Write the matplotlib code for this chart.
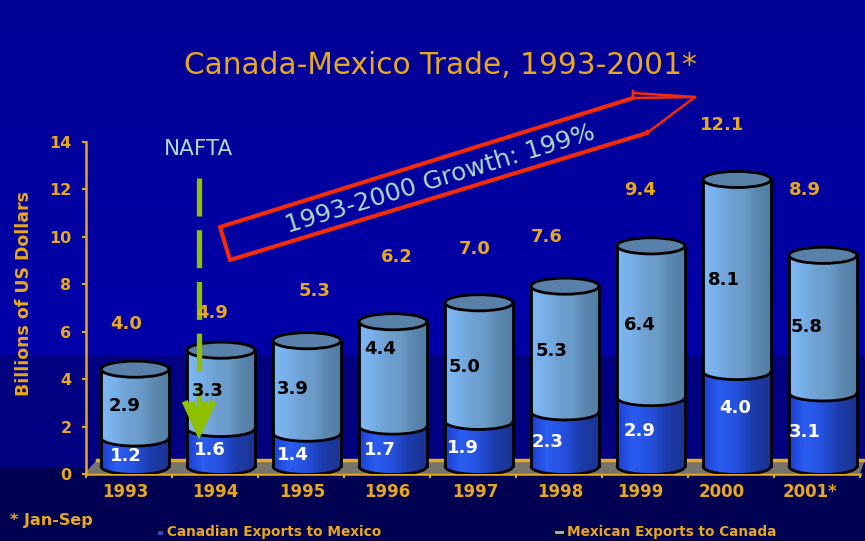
import numpy as np
import matplotlib
matplotlib.use("Agg")
import matplotlib.pyplot as plt
from matplotlib.patches import Ellipse, Polygon
from matplotlib.colors import LinearSegmentedColormap

W, H = 865, 541
years = ["1993", "1994", "1995", "1996", "1997", "1998", "1999", "2000", "2001*"]
canadian = [1.2, 1.6, 1.4, 1.7, 1.9, 2.3, 2.9, 4.0, 3.1]
mexican = [2.9, 3.3, 3.9, 4.4, 5.0, 5.3, 6.4, 8.1, 5.8]
totals = ["4.0", "4.9", "5.3", "6.2", "7.0", "7.6", "9.4", "12.1", "8.9"]
yticks = [0, 2, 4, 6, 8, 10, 12, 14]

GOLD = "#e8a81c"
PALE = "#a9dcc4"
FONT = "DejaVu Sans"

fig = plt.figure(figsize=(W / 100, H / 100), dpi=100)

# background
bg = fig.add_axes([0, 0, 1, 1], zorder=0)
bg.set_xlim(0, W); bg.set_ylim(H, 0); bg.axis("off")
grad = np.zeros((H, 1, 3))
for r in range(H):
    if r < 355:
        b = 148 + (166 - 148) * min(r / 300, 1)
    elif r < 467:
        b = 128
    else:
        b = 82
    grad[r, 0] = (0, 0, b / 255)
bg.imshow(grad, extent=[0, W, H, 0], aspect="auto", zorder=0)
# floor
bg.add_patch(Polygon([(85, 473), (860, 473), (865, 460), (97, 460)], closed=True,
                     fc="#77746c", ec="none", zorder=1))
bg.plot([97, 865], [460, 460], color=GOLD, lw=2.5, zorder=1)

# chart axes
ax = fig.add_axes([85.5 / W, 1 - 474 / H, 774 / W, 332 / H], zorder=1)
ax.patch.set_alpha(0)
ax.set_xlim(0, 9); ax.set_ylim(0, 14)
for s in ("top", "right"):
    ax.spines[s].set_visible(False)
for s in ("left", "bottom"):
    ax.spines[s].set_color(GOLD); ax.spines[s].set_linewidth(1.8)
ax.set_yticks(yticks)
ax.set_yticklabels([str(t) for t in yticks], color=GOLD, fontsize=11.5, fontweight="bold", family=FONT)
ax.set_xticks(np.arange(0, 10))
ax.set_xticklabels([])
ax.tick_params(axis="both", color=GOLD, length=3, width=1.5, pad=7)
ax.set_ylabel("Billions of US Dollars", color=GOLD, fontsize=12.5, fontweight="bold", family=FONT)
ax.yaxis.set_label_coords(-0.068, 0.545)

# cylinders
y0, eh, bw, dx = 0.32, 0.34, 0.79, 0.075
light = LinearSegmentedColormap.from_list("l", ["#7db6f0", "#78b0ea", "#6fa0d2", "#6a9ac8", "#5a86ae", "#527da4"])
dark = LinearSegmentedColormap.from_list("d", ["#1c3fd0", "#2a5cf0", "#2450dc", "#1c3aa8", "#1a3490"])
n = 44
for i, (c, m) in enumerate(zip(canadian, mexican)):
    cx = i + 0.5 + dx
    us = np.linspace(-1, 1, n + 1)
    mids = (us[:-1] + us[1:]) / 2
    sw = 2 / n * bw / 2
    for u in mids:
        e = eh * np.sqrt(1 - u ** 2)
        x = cx + u * bw / 2
        t = (u + 1) / 2
        ax.bar(x, c, width=sw * 1.05, bottom=y0 - e, color=dark(t), lw=0, zorder=3)
        ax.bar(x, m, width=sw * 1.05, bottom=y0 + c - e, color=light(t), lw=0, zorder=3)
    xs = cx + np.linspace(-1, 1, 81) * bw / 2
    es = eh * np.sqrt(1 - np.linspace(-1, 1, 81) ** 2)
    k = dict(color="black", lw=2.0, zorder=4)
    ax.plot(xs, y0 - es, solid_capstyle="round", **k)
    ax.plot(xs, y0 + c - es, **k)
    ax.plot([cx - bw / 2] * 2, [y0, y0 + c + m], **k)
    ax.plot([cx + bw / 2] * 2, [y0, y0 + c + m], **k)
    ax.add_patch(Ellipse((cx, y0 + c + m), bw, 2 * eh, fc="#5880a8", ec="black", lw=2.0, zorder=5))

# overlay in pixel coordinates
ov = fig.add_axes([0, 0, 1, 1], zorder=2)
ov.set_xlim(0, W); ov.set_ylim(H, 0); ov.axis("off")

bold = dict(ha="center", va="center", fontweight="bold", family=FONT)
total_pos = [(126, 324), (212, 313), (315, 291), (397, 257), (475, 249), (547, 237), (640, 190), (722, 125), (805, 190)]
for s, (x, y) in zip(totals, total_pos):
    ov.text(x, y, s, color=GOLD, fontsize=13, zorder=8, **bold)
low_pos = [(126, 456), (210, 450), (293, 455), (380, 450), (463, 448), (548, 442), (640, 431), (735, 408), (805, 432)]
for v, (x, y) in zip(canadian, low_pos):
    ov.text(x, y, f"{v:.1f}", color="white", fontsize=13, zorder=8, **bold)
up_pos = [(125, 406), (208, 391), (293, 389), (380, 349), (465, 367), (552, 351), (640, 325), (724, 280), (807, 327)]
for v, (x, y) in zip(mexican, up_pos):
    ov.text(x, y, f"{v:.1f}", color="black", fontsize=13, zorder=8, **bold)
tick_x = [125, 215, 302, 387, 475, 560, 640, 722, 810]
for s, x in zip(years, tick_x):
    ov.text(x, 492, s, color=GOLD, fontsize=12, zorder=8, **bold)

ov.text(440, 65, "Canada-Mexico Trade, 1993-2001*", color=GOLD, fontsize=21.3, ha="center", va="center", family=FONT)
ov.text(199, 149, "NAFTA", color=PALE, fontsize=15.5, ha="center", va="center", family=FONT)
ov.text(10, 521, "* Jan-Sep", color=GOLD, fontsize=11.5, ha="left", va="center", fontweight="bold", family=FONT)

# legend
ov.add_patch(Polygon([(157, 530), (163, 530), (163, 535), (157, 535)], fc="#2450dc", ec="black", lw=0.8))
ov.text(167, 532, "Canadian Exports to Mexico", color=GOLD, fontsize=9.8, fontweight="bold", ha="left", va="center", family=FONT)
ov.add_patch(Polygon([(554, 530), (564, 530), (564, 534), (554, 534)], fc="#86b8ee", ec="black", lw=0.8))
ov.text(567, 532, "Mexican Exports to Canada", color=GOLD, fontsize=9.8, fontweight="bold", ha="left", va="center", family=FONT)

# growth arrow
RED = "#f52a08"
ov.plot([633, 220, 230, 647], [98, 227, 260, 133], color=RED, lw=3, zorder=6, solid_joinstyle="round")
ov.plot([633, 633, 695, 647, 647], [91, 98, 97, 133, 131], color=RED, lw=1.8, zorder=6)
ov.plot([633, 695], [93, 97], color=RED, lw=1.8, zorder=6)
ov.text(440, 179, "1993-2000 Growth: 199%", color=PALE, fontsize=18, rotation=17, rotation_mode="anchor",
        ha="center", va="center", zorder=7, family=FONT)

# NAFTA arrow
GREEN = "#8fc000"
ov.plot([199, 199], [178, 425], color=GREEN, lw=3.8, zorder=7, dashes=(7.2, 2.6))
ov.plot([186, 199, 212], [404, 432, 404], color=GREEN, lw=4.5, zorder=7, solid_joinstyle="miter")
ov.plot([193, 199, 205], [405, 432, 405], color=GREEN, lw=4.5, zorder=7)

fig.savefig("out.png", dpi=100)
